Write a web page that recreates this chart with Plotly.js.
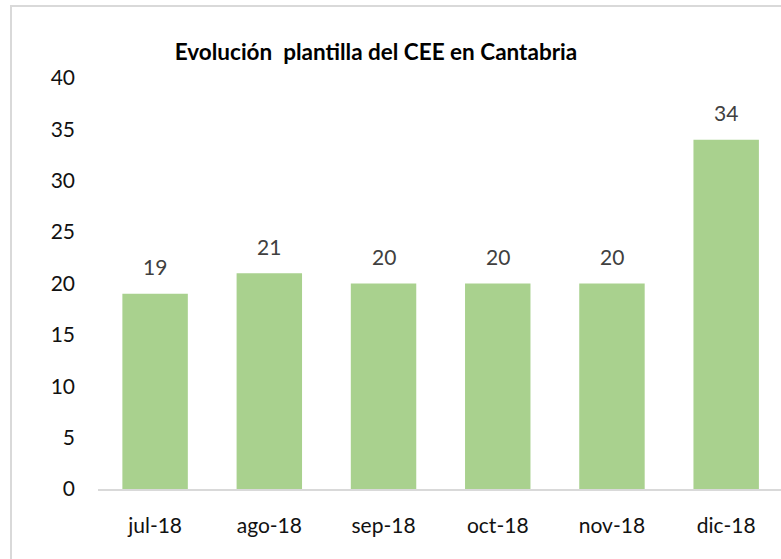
<!DOCTYPE html>
<html>
<head>
<meta charset="utf-8">
<script src="https://cdn.plot.ly/plotly-3.0.1.min.js"></script>
<style>html,body{margin:0;padding:0;background:#fff;}#chart{width:781px;height:559px;}</style>
</head>
<body>
<div id="chart"></div>
<script>
const categories = ["jul-18", "ago-18", "sep-18", "oct-18", "nov-18", "dic-18"];
const plantilla = [19, 21, 20, 20, 20, 34];
const yTicks = [0, 5, 10, 15, 20, 25, 30, 35, 40];
const chartTitle = "Evolución  plantilla del CEE en Cantabria";

const font = "Lato, 'Open Sans', 'Noto Sans', sans-serif";

const trace = {
  type: "bar",
  x: categories,
  y: plantilla,
  marker: {color: "#A9D18E"},
  hoverinfo: "x+y"
};

const labels = categories.map((c, i) => ({
  x: c, y: plantilla[i], xref: "x", yref: "y",
  text: String(plantilla[i]),
  showarrow: false, yanchor: "middle", yshift: 27,
  font: {family: font, size: 21, color: "#404040"}
}));

const layout = {
  width: 781, height: 559,
  margin: {l: 98, r: 0, t: 78, b: 70},
  paper_bgcolor: "#fff", plot_bgcolor: "#fff",
  bargap: 0.427,
  showlegend: false,
  title: {
    text: "<b>" + chartTitle + "</b>",
    font: {family: font, size: 22.5, color: "#000"},
    xref: "paper", x: 0.407, xanchor: "center",
    yref: "container", y: 1 - 52/559, yanchor: "middle"
  },
  xaxis: {
    type: "category",
    range: [-0.5, 5.48],
    showgrid: false, zeroline: false,
    showline: true, linecolor: "#D9D9D9", linewidth: 2,
    ticks: "",
    tickfont: {family: font, size: 21, color: "#111"},
    ticklabelstandoff: 17
  },
  yaxis: {
    range: [0, 40],
    tickvals: yTicks,
    showgrid: false, zeroline: false, showline: false,
    ticks: "",
    tickfont: {family: font, size: 21, color: "#111"},
    ticklabelstandoff: 22
  },
  annotations: labels,
  shapes: [{
    type: "rect", xref: "paper", yref: "paper",
    x0: (11 - 98) / 683, x1: 1.05, y0: -0.25, y1: (489 - 6) / 411,
    line: {color: "#D9D9D9", width: 2}, fillcolor: "rgba(0,0,0,0)", layer: "below"
  }]
};

Plotly.newPlot("chart", [trace], layout, {displayModeBar: false, staticPlot: true});
</script>
</body>
</html>
